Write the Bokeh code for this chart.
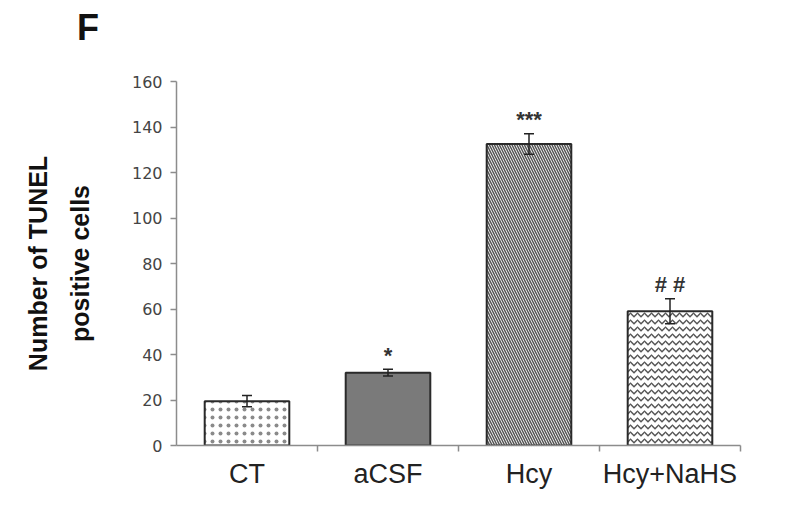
from bokeh.plotting import figure
from bokeh.models import ColumnDataSource, FixedTicker, Whisker, TeeHead, LinearAxis, Div
from bokeh.layouts import column
from bokeh.core.properties import value
from bokeh.embed import file_html
from bokeh.resources import INLINE

categories = ["CT", "aCSF", "Hcy", "Hcy+NaHS"]
values = [19.5, 32.0, 132.5, 59.0]
errors = [2.5, 1.5, 4.5, 5.5]
marks = ["", "*", "***", "# #"]
y_ticks = [0, 20, 40, 60, 80, 100, 120, 140, 160]

xs = [i + 0.5 for i in range(len(categories))]
src = ColumnDataSource(dict(
    x=xs, top=values,
    upper=[v + e for v, e in zip(values, errors)],
    lower=[v - e for v, e in zip(values, errors)],
    mark=marks,
))

p = figure(width=784, height=452, output_backend="svg", toolbar_location=None,
           x_range=(0, len(categories)), y_range=(0, 160),
           min_border_left=176, min_border_right=44, min_border_top=36, min_border_bottom=52)
p.margin = 0
p.outline_line_color = None
p.xgrid.visible = False
p.ygrid.visible = False
p.background_fill_color = "white"

styles = [
    dict(fill_color="white", hatch_pattern="dot", hatch_color="#8a8a8a", hatch_scale=8, hatch_weight=1.4),
    dict(fill_color="#7a7a7a"),
    dict(fill_color="white", hatch_pattern="left_diagonal_line", hatch_color="#555555", hatch_scale=5, hatch_weight=1.5),
    dict(fill_color="white", hatch_pattern="horizontal_wave", hatch_color="#555555", hatch_scale=7, hatch_weight=1.5),
]
for i, st in enumerate(styles):
    p.vbar(x=[xs[i]], top=[values[i]], bottom=0, width=0.6,
           line_color="#2a2a2a", line_width=2, **st)

w = Whisker(base="x", upper="upper", lower="lower", source=src, level="overlay",
            line_color="#222222", line_width=1.5,
            upper_head=TeeHead(size=10, line_color="#222222", line_width=1.5),
            lower_head=TeeHead(size=10, line_color="#222222", line_width=1.5))
p.add_layout(w)

p.text(x="x", y="upper", text="mark", source=src, y_offset=-14,
       text_align="center", text_baseline="middle",
       text_font=value("Liberation Sans"), text_font_size="22px",
       text_font_style="bold", text_color="#333333")

# axes
p.yaxis.ticker = FixedTicker(ticks=y_ticks)
p.yaxis.major_tick_out = 6
p.yaxis.major_tick_in = 0
p.yaxis.minor_tick_line_color = None
p.yaxis.axis_line_color = "#8c8c8c"
p.yaxis.axis_line_width = 1.5
p.yaxis.major_tick_line_color = "#8c8c8c"
p.yaxis.major_tick_line_width = 1.5
p.yaxis.major_label_text_font = "DejaVu Sans"
p.yaxis.major_label_text_font_size = "16px"
p.yaxis.major_label_text_color = "#444444"
p.yaxis.major_label_standoff = 8

p.xaxis.ticker = FixedTicker(ticks=xs, minor_ticks=[1, 2, 3, 4])
p.xaxis.major_label_overrides = {x: c for x, c in zip(xs, categories)}
p.xaxis.major_tick_line_color = None
p.xaxis.minor_tick_out = 6
p.xaxis.minor_tick_in = 0
p.xaxis.minor_tick_line_color = "#8c8c8c"
p.xaxis.minor_tick_line_width = 1.5
p.xaxis.axis_line_color = "#8c8c8c"
p.xaxis.axis_line_width = 1.5
p.xaxis.major_label_text_font = "Liberation Sans"
p.xaxis.major_label_text_font_size = "27px"
p.xaxis.major_label_text_color = "#222222"
p.xaxis.major_label_standoff = 7

# y-axis title in two lines: two label-only axes stacked outward
def label_axis(text, standoff):
    ax = LinearAxis(ticker=FixedTicker(ticks=[]), axis_label=text,
                    axis_line_color=None, major_tick_line_color=None,
                    minor_tick_line_color=None, major_label_text_font_size="0px",
                    axis_label_standoff=standoff,
                    axis_label_text_font="Liberation Sans",
                    axis_label_text_font_size="25px",
                    axis_label_text_font_style="bold",
                    axis_label_text_color="#111111")
    p.add_layout(ax, "left")

label_axis("positive cells", 35)
label_axis("Number of TUNEL", 11)

# panel letter
letter = Div(text="F", width=784, height=45, margin=0,
             styles={"font-family": "Liberation Sans", "font-size": "36px",
                     "font-weight": "bold", "color": "#111111",
                     "padding-left": "77px", "padding-top": "7px",
                     "line-height": "1.15"})

layout = column(letter, p, spacing=0, margin=0)

open("out.html", "w").write(file_html(layout, INLINE))
